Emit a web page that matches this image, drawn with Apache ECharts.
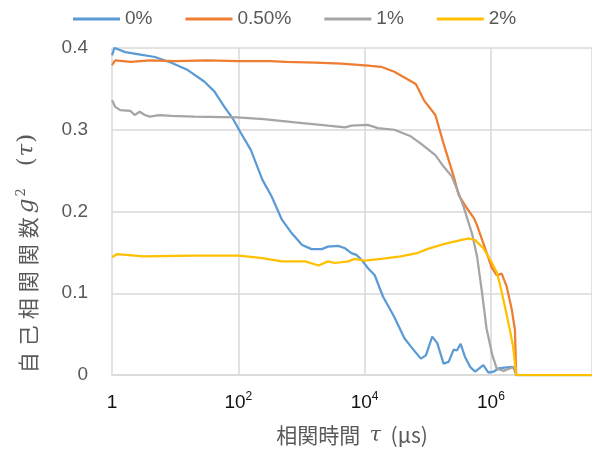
<!DOCTYPE html>
<html>
<head>
<meta charset="utf-8">
<script src="https://cdn.jsdelivr.net/npm/echarts@6/dist/echarts.min.js"></script>
<style>
  html, body { margin: 0; padding: 0; background: #fff; }
  #chart { width: 592px; height: 452px; }
</style>
</head>
<body>
<div id="chart"></div>
<script>
// 凡例
var seriesNames = ["0%", "0.50%", "1%", "2%"];
var seriesColors = ["#5B9BD5", "#ED7D31", "#A5A5A5", "#FFC000"];

// x は log10(τ / μs)
var logTau0 = [0, 0.04, 0.21, 0.45, 0.68, 0.94, 1.2, 1.46, 1.62, 1.78, 1.91, 2.04, 2.2, 2.38, 2.53, 2.69, 2.85, 3.01, 3.16, 3.32, 3.42, 3.58, 3.69, 3.79, 3.87, 3.95, 4.05, 4.16, 4.29, 4.47, 4.63, 4.73, 4.89, 4.97, 5.07, 5.15, 5.25, 5.33, 5.41, 5.46, 5.52, 5.59, 5.67, 5.75, 5.88, 5.96, 6.04, 6.12, 6.33, 6.38, 6.4, 7.6];
var g0 = [0.391, 0.4, 0.395, 0.392, 0.389, 0.382, 0.373, 0.359, 0.347, 0.328, 0.314, 0.296, 0.275, 0.239, 0.218, 0.19, 0.173, 0.159, 0.154, 0.154, 0.157, 0.158, 0.155, 0.149, 0.147, 0.141, 0.131, 0.122, 0.096, 0.071, 0.045, 0.035, 0.02, 0.024, 0.047, 0.039, 0.014, 0.016, 0.031, 0.03, 0.038, 0.022, 0.01, 0.004, 0.012, 0.003, 0.004, 0.008, 0.01, 0.008, 0, 0];

var logTau1 = [0, 0.05, 0.3, 0.6, 1.0, 1.5, 2.0, 2.5, 2.75, 3.22, 3.63, 3.95, 4.1, 4.26, 4.47, 4.81, 4.94, 5.12, 5.25, 5.41, 5.49, 5.62, 5.73, 5.78, 5.88, 6.01, 6.09, 6.17, 6.25, 6.33, 6.38, 6.4, 7.6];
var g1 = [0.379, 0.385, 0.383, 0.385, 0.384, 0.385, 0.384, 0.384, 0.383, 0.382, 0.381, 0.379, 0.378, 0.377, 0.371, 0.356, 0.336, 0.318, 0.283, 0.243, 0.22, 0.204, 0.192, 0.183, 0.161, 0.132, 0.122, 0.124, 0.108, 0.08, 0.055, 0, 0];

var logTau2 = [0, 0.05, 0.13, 0.29, 0.36, 0.44, 0.52, 0.6, 0.75, 0.94, 1.3, 1.98, 2.4, 2.9, 3.42, 3.69, 3.79, 4.05, 4.21, 4.47, 4.73, 4.89, 5.12, 5.25, 5.38, 5.49, 5.57, 5.7, 5.78, 5.86, 5.93, 6.02, 6.09, 6.2, 6.3, 6.35, 6.4, 7.6];
var g2 = [0.336, 0.328, 0.324, 0.323, 0.318, 0.322, 0.318, 0.316, 0.318, 0.317, 0.316, 0.315, 0.313, 0.309, 0.305, 0.303, 0.305, 0.306, 0.302, 0.3, 0.292, 0.283, 0.269, 0.255, 0.243, 0.222, 0.205, 0.173, 0.145, 0.1, 0.057, 0.025, 0.008, 0.005, 0.008, 0.01, 0, 0];

var logTau3 = [0, 0.08, 0.5, 1.28, 2.01, 2.38, 2.69, 3.06, 3.27, 3.42, 3.53, 3.74, 3.84, 4.0, 4.26, 4.57, 4.83, 4.99, 5.25, 5.52, 5.65, 5.75, 5.88, 5.99, 6.09, 6.14, 6.22, 6.3, 6.35, 6.4, 7.6];
var g3 = [0.144, 0.148, 0.145, 0.146, 0.146, 0.143, 0.139, 0.139, 0.134, 0.139, 0.137, 0.139, 0.142, 0.14, 0.142, 0.145, 0.149, 0.154, 0.16, 0.165, 0.167, 0.165, 0.155, 0.141, 0.126, 0.112, 0.084, 0.055, 0.035, 0, 0];

var allLogTau = [logTau0, logTau1, logTau2, logTau3];
var allG = [g0, g1, g2, g3];

var yTicks = [0, 0.1, 0.2, 0.3, 0.4];

var fontLatin = "Liberation Sans, Arial, sans-serif";
var fontCJK = "Noto Sans CJK JP";
var fontMath = "DejaVu Serif, serif";

var chart = echarts.init(document.getElementById("chart"), null, { renderer: "canvas" });

var series = seriesNames.map(function (name, k) {
  return {
    name: name,
    type: "line",
    symbol: "none",
    smooth: false,
    lineStyle: { width: 2.25, color: seriesColors[k] },
    itemStyle: { color: seriesColors[k] },
    data: allLogTau[k].map(function (e, i) {
      return [Math.pow(10, e), allG[k][i]];
    })
  };
});

// 縦軸タイトル：一文字ずつ少し間隔をあける
var yTitleChars = "自己相関関数".split("").map(function (c) { return "{c|" + c + "}"; }).join("");

var option = {
  animation: false,
  backgroundColor: "#fff",
  legend: {
    data: seriesNames,
    icon: "rect",
    left: 73,
    top: 8,
    padding: 0,
    itemWidth: 47,
    itemHeight: 3,
    itemGap: 33,
    textStyle: { fontFamily: fontLatin, fontSize: 19, color: "#595959", lineHeight: 22 }
  },
  grid: { left: 112, right: -3, top: 48, bottom: 77, containLabel: false },
  xAxis: {
    type: "log",
    logBase: 100,
    min: 1,
    max: Math.pow(10, 7.6),
    interval: 1,
    name: "{n|相関時間  }{it|τ}{n|  (μs)}",
    nameLocation: "middle",
    nameGap: 50,
    nameTextStyle: {
      rich: {
        n: { fontFamily: fontCJK, fontSize: 21, color: "#595959" },
        it: { fontFamily: fontMath, fontStyle: "italic", fontSize: 21, color: "#595959" }
      }
    },
    axisLine: { show: true, lineStyle: { color: "#d9d9d9", width: 1.5 } },
    axisTick: { show: false },
    splitLine: { show: true, lineStyle: { color: "#d9d9d9", width: 1.5 } },
    axisLabel: {
      margin: 15,
      showMaxLabel: false,
      formatter: function (v) {
        var e = Math.log10(v);
        if (Math.abs(e - Math.round(e)) > 1e-6) return "";
        e = Math.round(e);
        if (e === 0) return "{b|1}";
        return "{b|10}{s|" + e + "}";
      },
      rich: {
        b: { fontFamily: fontLatin, fontSize: 19, color: "#111", verticalAlign: "bottom", lineHeight: 22 },
        s: { fontFamily: fontLatin, fontSize: 12, color: "#111", verticalAlign: "bottom", lineHeight: 22, padding: [0, 0, 9, 0] }
      }
    }
  },
  yAxis: {
    type: "value",
    min: yTicks[0],
    max: yTicks[yTicks.length - 1],
    interval: 0.1,
    axisLine: { show: false },
    axisTick: { show: false },
    splitLine: { show: true, lineStyle: { color: "#d9d9d9", width: 1.5 } },
    axisLabel: {
      margin: 24,
      fontFamily: fontLatin,
      fontSize: 19,
      color: "#595959",
      formatter: function (v) { return String(Math.round(v * 10) / 10); }
    }
  },
  graphic: [
    {
      type: "text",
      x: 25,
      y: 255,
      rotation: Math.PI / 2,
      style: {
        text: yTitleChars + "{it|g}{sup|2}{m|   (}{it|τ}{m|)}",
        align: "center",
        verticalAlign: "middle",
        rich: {
          c: { fontFamily: fontCJK, fontSize: 21, fill: "#595959", verticalAlign: "bottom", lineHeight: 28, padding: [0, 3, 0, 3] },
          it: { fontFamily: fontMath, fontStyle: "italic", fontSize: 23, fill: "#595959", verticalAlign: "bottom", lineHeight: 28, padding: [0, 1, 0, 1] },
          sup: { fontFamily: fontMath, fontSize: 13, fill: "#595959", verticalAlign: "bottom", lineHeight: 28, padding: [0, 0, 11, 1] },
          m: { fontFamily: fontMath, fontSize: 23, fill: "#595959", verticalAlign: "bottom", lineHeight: 28 }
        }
      }
    }
  ],
  series: series
};

chart.setOption(option);
</script>
</body>
</html>
